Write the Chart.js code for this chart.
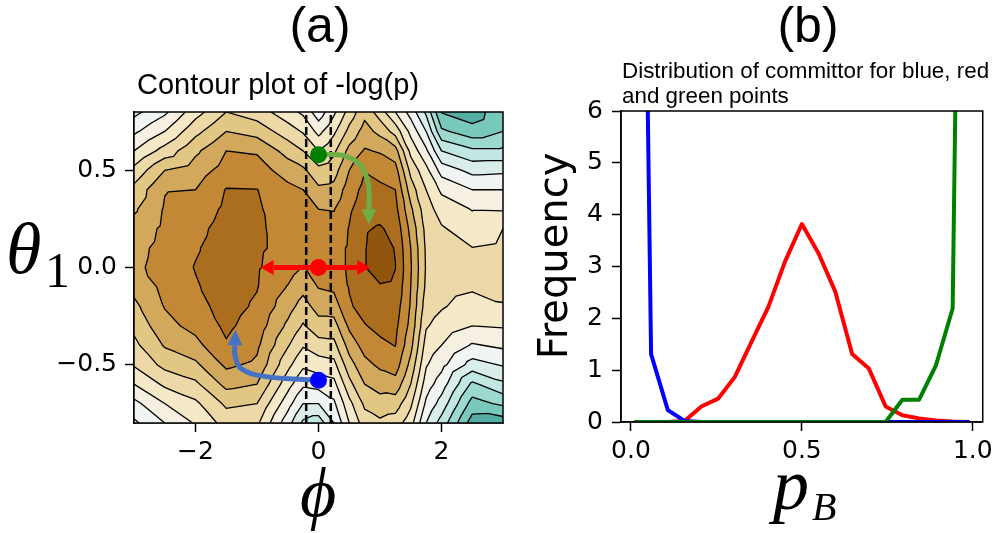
<!DOCTYPE html>
<html lang="en">
<head>
<meta charset="UTF-8">
<title>Contour plot of -log(p) and committor distribution</title>
<script src="https://cdn.jsdelivr.net/npm/chart.js"></script>
<style>
  body { margin: 0; background: #fff; }
  #wrap { position: relative; width: 998px; height: 533px; }
  #wrap canvas { position: absolute; left: 0; top: 0; }
</style>
</head>
<body>
<div id="wrap">
  <canvas id="contourChart" width="998" height="533"></canvas>
  <canvas id="committorChart" width="998" height="533"></canvas>
</div>

<script>
  // ---- (a) -log(p) on a coarse grid ----
  const phiGrid = [-3, -2.5, -2, -1.5, -1, -0.5, -0.25, 0, 0.25, 0.5, 0.75, 1, 1.25, 1.5, 1.75, 2, 2.5, 3];
  // rows go from theta1 = 0.8 (top) down to -0.8
  const thetaGrid = [0.8, 0.7, 0.6, 0.5, 0.4, 0.3, 0.2, 0.1, 0, -0.1, -0.2, -0.3, -0.4, -0.5, -0.6, -0.7, -0.8];
  const negLogP = [
    [9.3, 8.2, 6.4, 5.0, 5.5, 6.6, 7.2, 8.6, 7.2, 5.6, 4.3, 5.5, 7.0, 8.4, 10.2, 13.05, 13.6, 12.2],
    [8.2, 7.0, 5.3, 4.0, 4.4, 5.5, 6.1, 7.3, 6.2, 4.7, 3.6, 4.3, 5.4, 7.3, 9.0, 11.8, 12.6, 12.0],
    [7.0, 5.6, 4.2, 3.0, 3.1, 4.4, 5.0, 6.0, 5.2, 3.7, 2.9, 3.1, 3.6, 6.3, 7.8, 10.0, 10.8, 10.8],
    [5.7, 4.0, 3.5, 2.6, 2.6, 3.4, 3.8, 4.7, 4.4, 3.0, 2.05, 2.3, 2.6, 5.3, 6.7, 8.4, 9.3, 9.2],
    [4.7, 3.05, 3.0, 1.95, 1.98, 2.75, 3.0, 3.8, 3.7, 2.5, 1.7, 1.8, 2.0, 4.5, 6.0, 7.2, 8.0, 8.0],
    [4.15, 2.9, 2.6, 1.8, 1.88, 2.5, 2.7, 3.0, 3.05, 2.15, 1.45, 1.4, 1.7, 3.8, 5.6, 6.4, 7.05, 7.1],
    [3.6, 2.8, 2.3, 1.6, 1.85, 2.35, 2.55, 2.7, 2.6, 1.95, 1.1, 0.9, 1.3, 3.3, 5.3, 5.9, 6.5, 6.0],
    [3.3, 2.7, 2.1, 1.5, 1.85, 2.3, 2.55, 2.5, 2.3, 1.9, 1.05, 0.6, 1.05, 3.0, 5.15, 5.6, 5.98, 5.85],
    [3.2, 2.65, 1.95, 1.45, 1.9, 2.55, 3.05, 2.7, 2.3, 1.9, 1.05, 0.5, 0.98, 2.9, 5.1, 5.45, 5.5, 5.6],
    [3.7, 2.75, 2.1, 1.5, 1.95, 3.05, 3.7, 2.95, 2.8, 1.95, 1.3, 1.1, 1.2, 3.0, 5.2, 5.6, 5.85, 5.8],
    [4.25, 2.95, 2.35, 1.6, 2.15, 3.6, 4.4, 3.6, 3.5, 2.1, 1.7, 1.4, 1.5, 3.1, 5.5, 5.9, 6.45, 6.05],
    [4.75, 3.3, 2.7, 1.8, 2.45, 4.2, 5.1, 4.4, 4.4, 2.8, 2.05, 1.75, 1.75, 3.3, 5.9, 6.4, 7.0, 6.9],
    [5.25, 3.9, 3.3, 2.1, 2.8, 4.9, 5.9, 5.4, 5.3, 3.6, 2.6, 2.2, 1.97, 3.7, 6.4, 7.0, 8.1, 7.8],
    [5.9, 4.7, 4.2, 2.8, 3.2, 5.7, 6.8, 6.5, 6.3, 4.4, 3.3, 2.8, 2.5, 4.3, 6.9, 7.7, 9.4, 8.9],
    [7.0, 5.8, 5.2, 3.7, 4.0, 6.6, 7.8, 7.6, 7.3, 5.3, 4.0, 3.6, 3.4, 5.0, 7.5, 8.5, 11.2, 10.2],
    [8.3, 7.0, 6.2, 4.8, 5.0, 7.6, 9.0, 9.0, 8.2, 6.3, 4.8, 4.4, 4.5, 5.8, 8.2, 9.4, 12.4, 11.8],
    [9.2, 8.0, 6.9, 5.6, 5.8, 8.6, 10.2, 10.6, 9.0, 7.0, 5.5, 5.2, 5.5, 6.6, 9.0, 10.4, 13.5, 13.6]
  ];
  const contourLevels = [0, 1, 2, 3, 4, 5, 6, 7, 8, 9, 10, 11, 12, 13, 14];

  const phiTicks = [-2, 0, 2];
  const phiTickLabels = ['\u22122', '0', '2'];
  const thetaTicks = [-0.5, 0, 0.5];
  const thetaTickLabels = ['\u22120.5', '0.0', '0.5'];

  // marked points (green, red, blue) and the boundary phi = +-0.2
  const pointPhi = [0, 0, 0];
  const pointTheta = [0.58, 0, -0.58];
  const pointColors = ['#008000', '#ff0000', '#0000ff'];
  const boundaryPhi = [-0.2, 0.2];

  // arrows in (phi, theta): shaft path, then the head tip
  const redArrowPath = [[-0.73, 0], [0.63, 0]];
  const redArrowTips = [[-0.94, 0], [0.84, 0]];
  const greenArrowPath = [[0, 0.58], [0.4, 0.576], [0.67, 0.53], [0.81, 0.43], [0.82, 0.3]];
  const greenArrowTip = [0.82, 0.22];
  const blueArrowPath = [[0, -0.58], [-0.88, -0.56], [-1.26, -0.52], [-1.36, -0.45], [-1.36, -0.4]];
  const blueArrowTip = [-1.35, -0.32];

  // ---- (b) committor histograms ----
  const committorBins = [0.01, 0.059, 0.108, 0.157, 0.206, 0.255, 0.304, 0.353, 0.402, 0.451, 0.5,
                         0.549, 0.598, 0.647, 0.696, 0.745, 0.794, 0.843, 0.892, 0.941, 0.99];
  const blueFreq  = [25.2, 1.31, 0.23, 0.02, 0, 0, 0, 0, 0, 0, 0, 0, 0, 0, 0, 0, 0, 0, 0, 0, 0];
  const redFreq   = [0, 0, 0, 0.02, 0.3, 0.45, 0.87, 1.55, 2.22, 3.1, 3.82, 3.25, 2.51, 1.31, 1.03, 0.3, 0.13, 0.07, 0.03, 0.01, 0];
  const greenFreq = [0, 0, 0, 0, 0, 0, 0, 0, 0, 0, 0, 0, 0, 0, 0, 0, 0.43, 0.43, 1.09, 2.19, 26.5];
  const pTicks = [0, 0.5, 1.0];
  const pTickLabels = ['0.0', '0.5', '1.0'];
  const freqTicks = [0, 1, 2, 3, 4, 5, 6];
  const freqTickLabels = ['0', '1', '2', '3', '4', '5', '6'];

  // BrBG colormap, one colour per band
  const brbg = [[84,48,5],[140,81,10],[191,129,45],[223,194,125],[246,232,195],[245,245,245],
                [199,234,229],[128,205,193],[53,151,143],[1,102,94],[0,60,48]];
  function brbgAt(t) {
    const s = t * 10;
    const i = Math.min(9, Math.floor(s));
    const f = s - i;
    return brbg[i].map((c, k) => Math.round(c + f * (brbg[i + 1][k] - c)));
  }
  const bandColors = contourLevels.map((lv, k) => brbgAt(0.11 + 0.05 * k));

  function cellIndex(grid, v, desc) {
    for (let i = 0; i < grid.length - 2; i++) {
      if (desc ? v >= grid[i + 1] : v <= grid[i + 1]) return i;
    }
    return grid.length - 2;
  }

  // linear interpolation on two triangles per cell (same split as the lines)
  function fieldAt(phi, theta) {
    const i = cellIndex(phiGrid, phi, false);
    const j = cellIndex(thetaGrid, theta, true);
    const u = Math.min(1, Math.max(0, (phi - phiGrid[i]) / (phiGrid[i + 1] - phiGrid[i])));
    const w = Math.min(1, Math.max(0, (thetaGrid[j] - theta) / (thetaGrid[j] - thetaGrid[j + 1])));
    const a = negLogP[j][i], b = negLogP[j][i + 1], c = negLogP[j + 1][i], d = negLogP[j + 1][i + 1];
    return u >= w ? a + u * (b - a) + w * (d - b) : a + w * (c - a) + u * (d - c);
  }

  function bandOf(v) {
    let k = 0;
    for (let n = 1; n < contourLevels.length; n++) if (v >= contourLevels[n]) k = n;
    return k;
  }

  function triSegment(path, pts, vals, L) {
    const hit = [];
    for (let k = 0; k < 3; k++) {
      const k2 = (k + 1) % 3;
      if ((vals[k] >= L) !== (vals[k2] >= L)) {
        const t = (L - vals[k]) / (vals[k2] - vals[k]);
        hit.push([pts[k][0] + t * (pts[k2][0] - pts[k][0]), pts[k][1] + t * (pts[k2][1] - pts[k][1])]);
      }
    }
    if (hit.length === 2) {
      path.moveTo(hit[0][0], hit[0][1]);
      path.lineTo(hit[1][0], hit[1][1]);
    }
  }

  const contourPlugin = {
    id: 'contourFill',
    beforeDatasetsDraw(chart) {
      const { ctx, chartArea: area, scales: { x, y } } = chart;
      const w = Math.round(area.right - area.left), h = Math.round(area.bottom - area.top);
      const off = document.createElement('canvas');
      off.width = w; off.height = h;
      const octx = off.getContext('2d');
      const img = octx.createImageData(w, h);
      for (let py = 0; py < h; py++) {
        const theta = y.getValueForPixel(area.top + py + 0.5);
        for (let px = 0; px < w; px++) {
          const phi = x.getValueForPixel(area.left + px + 0.5);
          const c = bandColors[bandOf(fieldAt(phi, theta))];
          const o = (py * w + px) * 4;
          img.data[o] = c[0]; img.data[o + 1] = c[1]; img.data[o + 2] = c[2]; img.data[o + 3] = 255;
        }
      }
      octx.putImageData(img, 0, 0);
      ctx.drawImage(off, area.left, area.top);

      // contour lines
      ctx.save();
      ctx.beginPath();
      ctx.rect(area.left, area.top, w, h);
      ctx.clip();
      ctx.beginPath();
      for (let j = 0; j < thetaGrid.length - 1; j++) {
        for (let i = 0; i < phiGrid.length - 1; i++) {
          const A = [x.getPixelForValue(phiGrid[i]), y.getPixelForValue(thetaGrid[j])];
          const B = [x.getPixelForValue(phiGrid[i + 1]), A[1]];
          const C = [A[0], y.getPixelForValue(thetaGrid[j + 1])];
          const D = [B[0], C[1]];
          const a = negLogP[j][i], b = negLogP[j][i + 1], c = negLogP[j + 1][i], d = negLogP[j + 1][i + 1];
          for (let n = 1; n < contourLevels.length; n++) {
            triSegment(ctx, [A, B, D], [a, b, d], contourLevels[n]);
            triSegment(ctx, [A, C, D], [a, c, d], contourLevels[n]);
          }
        }
      }
      ctx.strokeStyle = '#000';
      ctx.lineWidth = 1.3;
      ctx.lineCap = 'round';
      ctx.stroke();
      ctx.restore();
    }
  };

  function drawHead(ctx, x, y, base, tip, color) {
    const bx = x.getPixelForValue(base[0]), by = y.getPixelForValue(base[1]);
    const tx = x.getPixelForValue(tip[0]), ty = y.getPixelForValue(tip[1]);
    const len = Math.hypot(tx - bx, ty - by);
    const nx = -(ty - by) / len, ny = (tx - bx) / len;
    const hw = 7.5;
    ctx.beginPath();
    ctx.moveTo(tx, ty);
    ctx.lineTo(bx + nx * hw, by + ny * hw);
    ctx.lineTo(bx - nx * hw, by - ny * hw);
    ctx.closePath();
    ctx.fillStyle = color;
    ctx.fill();
  }

  const arrowHeads = {
    id: 'arrowHeads',
    afterDatasetsDraw(chart) {
      const { ctx, scales: { x, y } } = chart;
      ctx.save();
      drawHead(ctx, x, y, redArrowPath[0], redArrowTips[0], '#ff0000');
      drawHead(ctx, x, y, redArrowPath[1], redArrowTips[1], '#ff0000');
      drawHead(ctx, x, y, greenArrowPath[greenArrowPath.length - 1], greenArrowTip, '#70ad47');
      drawHead(ctx, x, y, blueArrowPath[blueArrowPath.length - 1], blueArrowTip, '#4472c4');
      ctx.restore();
    }
  };

  const frame = {
    id: 'frame',
    afterDatasetsDraw(chart) {
      const { ctx, chartArea: a } = chart;
      ctx.save();
      ctx.strokeStyle = '#000';
      ctx.lineWidth = 1.5;
      ctx.strokeRect(a.left, a.top, a.right - a.left, a.bottom - a.top);
      ctx.restore();
    }
  };

  function axis(min, max, ticks, labels, size, pad) {
    return {
      type: 'linear', min: min, max: max,
      afterBuildTicks: scale => { scale.ticks = ticks.map(v => ({ value: v })); },
      afterFit: scale => {
        if (scale.isHorizontal()) scale.height = size; else scale.width = size;
      },
      border: { display: true, color: '#000', width: 1.5 },
      grid: { drawOnChartArea: false, drawTicks: true, tickLength: 9, tickWidth: 1.5, tickColor: '#000', color: '#000' },
      ticks: {
        color: '#000', font: { family: 'DejaVu Sans', size: 25 }, autoSkip: false, maxRotation: 0,
        padding: pad,
        callback: (v, i) => labels[i]
      }
    };
  }

  const pathData = p => p.map(q => ({ x: q[0], y: q[1] }));

  const textA = {
    id: 'textA',
    afterDraw(chart) {
      const ctx = chart.ctx;
      ctx.save();
      ctx.fillStyle = '#000';
      ctx.textBaseline = 'alphabetic';
      ctx.textAlign = 'center';
      ctx.font = '50px "Liberation Sans"';
      ctx.fillText('(a)', 320, 42);
      ctx.font = '29px "Liberation Sans"';
      ctx.fillText('Contour plot of -log(p)', 278, 94);
      ctx.font = 'italic 70px "Liberation Serif", "DejaVu Serif"';
      ctx.fillText('\u03d5', 318, 516);
      ctx.textAlign = 'left';
      ctx.font = 'italic 72px "Liberation Serif"';
      ctx.fillText('\u03b8', 6, 273);
      ctx.font = '50px "Liberation Serif"';
      ctx.fillText('1', 45, 287);
      ctx.restore();
    }
  };

  const textB = {
    id: 'textB',
    afterDraw(chart) {
      const ctx = chart.ctx;
      ctx.save();
      ctx.fillStyle = '#000';
      ctx.textBaseline = 'alphabetic';
      ctx.textAlign = 'center';
      ctx.font = '50px "Liberation Sans"';
      ctx.fillText('(b)', 808, 42);
      ctx.textAlign = 'left';
      ctx.font = '22.4px "Liberation Sans"';
      ctx.fillText('Distribution of committor for blue, red', 622, 78);
      ctx.fillText('and green points', 622, 103);
      ctx.font = 'italic 72px "Liberation Serif"';
      ctx.fillText('p', 773, 509);
      ctx.font = 'italic 40px "Liberation Serif"';
      ctx.fillText('B', 812, 520);
      ctx.translate(567, 256);
      ctx.rotate(-Math.PI / 2);
      ctx.textAlign = 'center';
      ctx.font = '40px "DejaVu Sans"';
      ctx.fillText('Frequency', 0, 0);
      ctx.restore();
    }
  };

  const common = {
    responsive: false,
    animation: false,
    events: [],
    plugins: { legend: { display: false }, tooltip: { enabled: false } }
  };

  // (a) contour panel
  new Chart(document.getElementById('contourChart'), {
    type: 'scatter',
    data: {
      datasets: [
        {
          data: pointPhi.map((p, i) => ({ x: p, y: pointTheta[i] })),
          pointRadius: 8.5, pointBackgroundColor: pointColors, pointBorderWidth: 0
        },
        { data: pathData(redArrowPath), showLine: true, borderColor: '#ff0000', borderWidth: 5, pointRadius: 0 },
        { data: pathData(greenArrowPath), showLine: true, tension: 0.4, borderColor: '#70ad47', borderWidth: 5, pointRadius: 0 },
        { data: pathData(blueArrowPath), showLine: true, tension: 0.4, borderColor: '#4472c4', borderWidth: 5, pointRadius: 0 },
        ...boundaryPhi.map(p => ({
          data: [{ x: p, y: -0.8 }, { x: p, y: 0.8 }], showLine: true,
          borderColor: '#000', borderWidth: 2.5, borderDash: [8, 4], pointRadius: 0
        }))
      ]
    },
    options: Object.assign({}, common, {
      layout: { padding: { left: 46, right: 495, top: 112, bottom: 60 } },
      scales: {
        x: axis(-3, 3, phiTicks, phiTickLabels, 50, 5),
        y: axis(-0.8, 0.8, thetaTicks, thetaTickLabels, 88, 8)
      }
    }),
    plugins: [contourPlugin, arrowHeads, frame, textA]
  });

  // (b) committor panel
  const series = (vals, color) => ({
    data: committorBins.map((p, i) => ({ x: p, y: vals[i] })),
    showLine: true, borderColor: color, borderWidth: 4, pointRadius: 0,
    borderJoinStyle: 'round'
  });

  new Chart(document.getElementById('committorChart'), {
    type: 'scatter',
    data: {
      datasets: [
        series(greenFreq, '#008000'),
        series(blueFreq, '#0000ff'),
        series(redFreq, '#ff0000')
      ]
    },
    options: Object.assign({}, common, {
      layout: { padding: { left: 571, right: 11, top: 111, bottom: 61 } },
      scales: {
        x: axis(-0.029, 1.029, pTicks, pTickLabels, 50, 5),
        y: axis(0, 6, freqTicks, freqTickLabels, 50, 9)
      }
    }),
    plugins: [frame, textB]
  });
</script>
</body>
</html>
